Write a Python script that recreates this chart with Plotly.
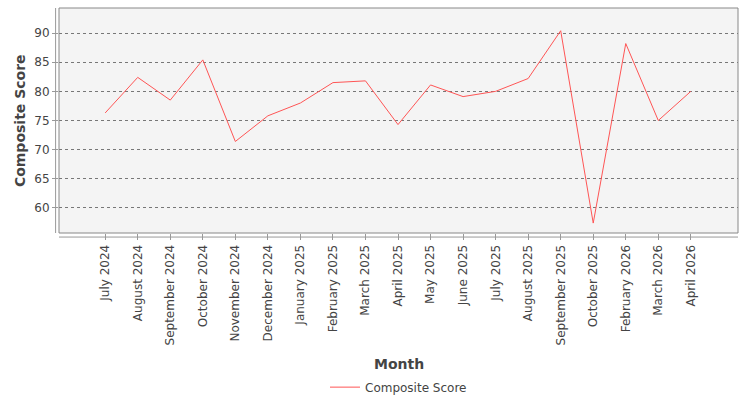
import plotly.graph_objects as go

months = ["July 2024", "August 2024", "September 2024", "October 2024", "November 2024",
          "December 2024", "January 2025", "February 2025", "March 2025", "April 2025",
          "May 2025", "June 2025", "July 2025", "August 2025", "September 2025",
          "October 2025", "February 2026", "March 2026", "April 2026"]
scores = [76.3, 82.4, 78.5, 85.4, 71.4, 75.8, 78.0, 81.5, 81.8, 74.3,
          81.1, 79.1, 80.0, 82.2, 90.4, 57.4, 88.2, 75.0, 80.0]

font = "DejaVu Sans"

fig = go.Figure(go.Scatter(
    x=months, y=scores, mode="lines", name="Composite Score",
    line=dict(color="#ff5555", width=1),
))

fig.update_layout(
    width=750, height=400,
    margin=dict(l=59, r=12, t=8, b=167, autoexpand=False),
    paper_bgcolor="white", plot_bgcolor="#f4f4f4",
    font=dict(family=font, size=12, color="#444"),
    showlegend=True,
    legend=dict(orientation="h", x=0.5, xanchor="center", y=-0.685, yanchor="middle",
                font=dict(size=12, color="#444")),
    xaxis=dict(type="category", range=[-1.42, len(months) - 1 + 1.45], automargin=False,
               tickangle=-90, ticks="outside", ticklen=6, tickcolor="#999",
               showgrid=False, zeroline=False, tickfont=dict(size=12, color="#444")),
    yaxis=dict(range=[55.7, 94.3], dtick=5, tick0=60, ticks="outside", ticklen=6,
               automargin=False,
               tickcolor="#999", showgrid=True, gridcolor="#777", griddash="dot",
               gridwidth=1, zeroline=False, tickfont=dict(size=12, color="#444")),
    annotations=[
        dict(text="<b>Month</b>", xref="paper", yref="paper", x=0.5, y=-0.58,
             xanchor="center", yanchor="middle",
             showarrow=False, font=dict(size=14, color="#444")),
        dict(text="<b>Composite Score</b>", xref="paper", yref="paper", x=-0.058, y=0.5,
             xanchor="center", yanchor="middle",
             textangle=-90, showarrow=False, font=dict(size=14, color="#444")),
    ],
    shapes=[
        dict(type="rect", xref="paper", yref="paper", x0=0, x1=1, y0=0, y1=1,
             line=dict(color="#888", width=1)),
        dict(type="line", xref="paper", yref="paper", x0=-0.005, x1=-0.005, y0=0, y1=1,
             line=dict(color="#999", width=1)),
        dict(type="line", xref="paper", yref="paper", x0=0, x1=1, y0=-0.018, y1=-0.018,
             line=dict(color="#999", width=1)),
    ],
)

fig.write_html("out.html", config={"displayModeBar": False},
               post_script="document.body.style.margin='0';")
